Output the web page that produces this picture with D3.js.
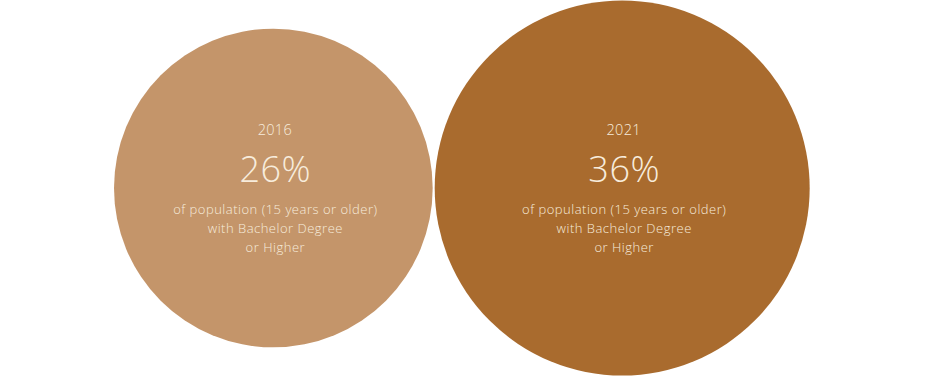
<!DOCTYPE html>
<html>
<head>
<meta charset="utf-8">
<script src="https://cdn.jsdelivr.net/npm/d3@7"></script>
<style>
  body { margin: 0; background: #fff; }
  svg { display: block; }
  .lbl { font-family: "Open Sans", sans-serif; font-weight: 300; fill: #f7ecdc; text-anchor: middle; }
</style>
</head>
<body>
<div id="chart"></div>
<script>
// values
const years = ['2016', '2021'];
const shares = [26, 36];
const colors = ['#c4956a', '#a96b2e'];
const caption = ['of population (15 years or older)', 'with Bachelor Degree', 'or Higher'];

const w = 928, h = 378;
const cy = 188;

// bubble area tracks the share
const r = d3.scaleSqrt().domain([0, d3.max(shares)]).range([0, 187.5]);

// lay the bubbles side by side, just touching
let x0 = 114;
const nodes = shares.map((v, i) => {
  const rad = r(v);
  const cx = x0 + rad;
  x0 = cx + rad + 2;
  return { year: years[i], value: v, r: rad, cx: cx, color: colors[i] };
});

const svg = d3.select('#chart').append('svg')
  .attr('width', w)
  .attr('height', h);

const g = svg.selectAll('g.bubble')
  .data(nodes)
  .enter()
  .append('g')
  .attr('class', 'bubble')
  .attr('transform', d => 'translate(' + d.cx + ',' + cy + ')');

g.append('circle')
  .attr('r', d => d.r)
  .style('fill', d => d.color);

// letter-spacing pushes centred text left a bit, dx puts it back
g.append('text')
  .attr('class', 'lbl')
  .attr('y', -53)
  .attr('dx', 1.5)
  .style('font-size', '14.5px')
  .style('letter-spacing', '0.3px')
  .text(d => d.year);

g.append('text')
  .attr('class', 'lbl')
  .attr('y', -6)
  .attr('dx', 2)
  .style('font-size', '36px')
  .style('letter-spacing', '0.5px')
  .text(d => d.value + '%');

caption.forEach((line, i) => {
  g.append('text')
    .attr('class', 'lbl')
    .attr('y', 26 + i * 19)
    .attr('dx', 2)
    .style('font-size', '13px')
    .style('letter-spacing', '0.5px')
    .text(line);
});
</script>
</body>
</html>
